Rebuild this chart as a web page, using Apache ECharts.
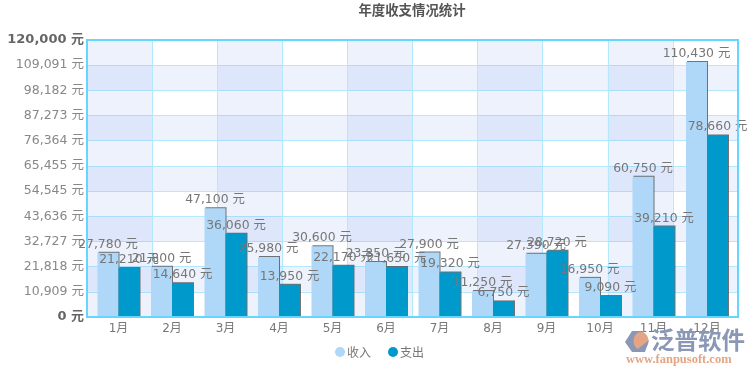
<!DOCTYPE html>
<html><head><meta charset="utf-8">
<style>html,body{margin:0;padding:0;background:#fff}#c{width:754px;height:374px}</style>
<script src="https://cdn.jsdelivr.net/npm/echarts@6/dist/echarts.min.js"></script>
</head><body><div id="c"></div>
<script>
const categories=['1月','2月','3月','4月','5月','6月','7月','8月','9月','10月','11月','12月'];
const income=[27780,21800,47100,25980,30600,23850,27900,11250,27390,16950,60750,110430];
const expense=[21210,14640,36060,13950,22170,21650,19320,6750,28720,9090,39210,78660];
const yMax=120000, yDivisions=11, xDivisions=10;
const FONT='"DejaVu Sans","Noto Sans CJK SC",sans-serif', CJK='"Noto Sans CJK SC",sans-serif';
const fmt=v=>Math.round(v).toLocaleString('en-US')+' 元';
const tint='rgba(60,110,235,0.085)';
const chart=echarts.init(document.getElementById('c'),null,{renderer:'canvas'});
const barStyle=c=>({color:c,shadowColor:'rgba(70,70,70,0.75)',shadowBlur:0,shadowOffsetX:1,shadowOffsetY:-1});
const label={show:true,position:'top',distance:2,color:'#777',fontFamily:FONT,fontSize:12.4,formatter:p=>fmt(p.value)};
chart.setOption({
  animation:false,
  title:{text:'年度收支情况统计',left:407,top:-2,textAlign:'center',textStyle:{fontFamily:CJK,fontSize:13.4,fontWeight:'bold',color:'#555'}},
  legend:{data:['收入','支出'],left:330,top:341,icon:'circle',itemWidth:10,itemHeight:10,itemGap:17,
    textStyle:{fontFamily:CJK,fontSize:12,color:'#777',padding:[0,0,0,-3]}},
  grid:[
    {left:87,right:16,top:40,bottom:57},
    {left:91.75,right:20.25,top:40,bottom:57}
  ],
  xAxis:[
    {type:'value',gridIndex:0,min:0,max:xDivisions,interval:1,axisLabel:{show:false},axisTick:{show:false},axisLine:{show:false},
     splitLine:{show:true,lineStyle:{color:'#b4e8fd',width:1}},
     splitArea:{show:true,areaStyle:{color:[tint,'rgba(0,0,0,0)']}}},
    {type:'category',gridIndex:1,data:categories,axisTick:{show:false},axisLine:{show:false},
     axisLabel:{color:'#777',fontFamily:FONT,fontSize:12,margin:6},splitLine:{show:false}}
  ],
  yAxis:[
    {type:'value',gridIndex:0,min:0,max:yMax,interval:yMax/yDivisions,
     axisTick:{show:false},axisLine:{show:false},
     axisLabel:{margin:3,fontFamily:FONT,fontSize:12.5,color:'#888',
       formatter:v=>(v===0||v===yMax)?'{b|'+fmt(v)+'}':fmt(v),
       rich:{b:{fontFamily:FONT,fontSize:13,fontWeight:'bold',color:'#666'}}},
     splitLine:{show:true,lineStyle:{color:'#b4e8fd',width:1}},
     splitArea:{show:true,areaStyle:{color:['rgba(0,0,0,0)',tint]}}},
    {type:'value',gridIndex:1,min:0,max:yMax,show:false,splitLine:{show:false}}
  ],
  series:[
    {name:'收入',type:'bar',xAxisIndex:1,yAxisIndex:1,data:income,barWidth:21,barGap:'0%',itemStyle:barStyle('#afd8f8'),label,z:3},
    {name:'支出',type:'bar',xAxisIndex:1,yAxisIndex:1,data:expense,barWidth:21,barGap:'0%',itemStyle:barStyle('#0099cc'),label,z:3}
  ],
  graphic:[
    {type:'rect',z:10,shape:{x:87,y:40,width:651,height:277},style:{fill:'none',stroke:'#66d5ff',lineWidth:2}},
    {type:'polygon',z:11,shape:{points:[[625,342],[632,331],[645,331],[634,342],[640,352],[632,352]]},style:{fill:'#8a97b5'}},
    {type:'ellipse',z:11,shape:{cx:641,cy:341,rx:7.5,ry:9},style:{fill:'#e3a583'}},
    {type:'polygon',z:12,shape:{points:[[634,352],[649,340],[645,352]]},style:{fill:'#8a97b5'}},
    {type:'text',z:11,x:651,y:328,style:{text:'泛普软件',fontFamily:CJK,fontSize:23.5,fontWeight:'bold',fill:'#8a97b5'}},
    {type:'text',z:11,x:626,y:353,style:{text:'www.fanpusoft.com',fontFamily:'"Liberation Serif",serif',fontSize:12.5,fontWeight:'bold',fill:'#e3a583'}}
  ]
});
</script></body></html>
